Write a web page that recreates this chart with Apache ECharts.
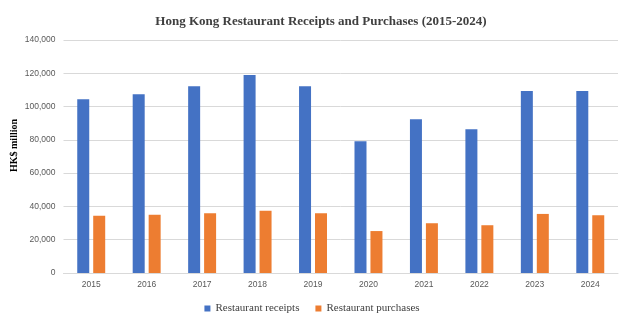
<!DOCTYPE html>
<html>
<head>
<meta charset="utf-8">
<script src="https://cdn.jsdelivr.net/npm/echarts@6/dist/echarts.min.js"></script>
<style>html,body{margin:0;padding:0;background:#fff}#c{width:624px;height:316px}</style>
</head>
<body>
<div id="c"></div>
<script>
var years = ['2015','2016','2017','2018','2019','2020','2021','2022','2023','2024'];
var receipts = [104400, 107400, 112200, 119000, 112200, 79100, 92400, 86300, 109400, 109400];
var purchases = [34400, 35000, 35900, 37400, 35900, 25200, 29900, 28700, 35500, 34700];
var yTicks = [0, 20000, 40000, 60000, 80000, 100000, 120000, 140000];

var chart = echarts.init(document.getElementById('c'), null, {renderer: 'canvas'});
chart.setOption({
  animation: false,
  title: {
    text: 'Hong Kong Restaurant Receipts and Purchases (2015-2024)',
    left: 316, textAlign: 'center', top: 10,
    textStyle: {fontFamily: 'Liberation Serif', fontWeight: 'bold', fontSize: 13, color: '#404040'}
  },
  legend: {
    top: 298, left: 'center', itemWidth: 6, itemHeight: 6, itemGap: 16,
    icon: 'rect',
    textStyle: {fontFamily: 'Liberation Serif', fontSize: 11, color: '#404040'},
    data: ['Restaurant receipts', 'Restaurant purchases']
  },
  grid: {left: 63.5, right: 6, top: 40, bottom: 43, outerBoundsMode: 'none', containLabel: false},
  xAxis: {
    type: 'category', data: years,
    axisLine: {lineStyle: {color: '#d9d9d9'}},
    axisTick: {show: false},
    axisLabel: {fontFamily: 'Liberation Sans', fontSize: 8.5, color: '#595959', margin: 7}
  },
  yAxis: {
    type: 'value', min: yTicks[0], max: yTicks[yTicks.length - 1], interval: 20000,
    name: 'HK$ million', nameLocation: 'middle', nameGap: 44, nameMoveOverlap: false,
    nameTextStyle: {fontFamily: 'Liberation Serif', fontWeight: 'bold', fontSize: 10, color: '#000', padding: [0, 0, 0, 22]},
    axisLine: {show: false}, axisTick: {show: false},
    splitLine: {lineStyle: {color: '#d9d9d9'}},
    axisLabel: {
      fontFamily: 'Liberation Sans', fontSize: 8.5, color: '#595959', margin: 8,
      formatter: function (v) { return v.toLocaleString('en-US'); }
    }
  },
  series: [
    {name: 'Restaurant receipts', type: 'bar', data: receipts, barWidth: 12, barGap: '33%',
     itemStyle: {color: '#4472c4'}},
    {name: 'Restaurant purchases', type: 'bar', data: purchases, barWidth: 12, barGap: '33%',
     itemStyle: {color: '#ed7d31'}}
  ]
});
</script>
</body>
</html>
